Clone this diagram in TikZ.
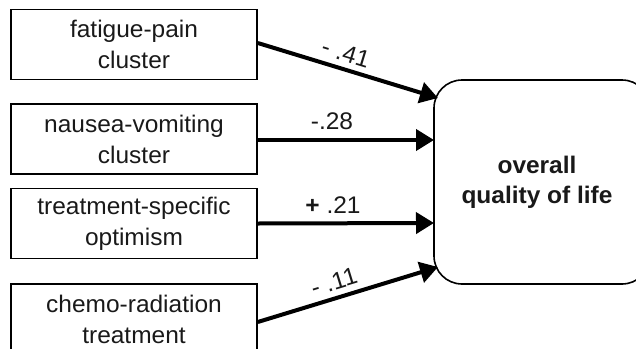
\documentclass[tikz,border=0pt]{standalone}
\usepackage{fontspec}
\setmainfont{Liberation Sans}[FakeStretch=1.02]
\usetikzlibrary{arrows.meta}
\begin{document}
\begin{tikzpicture}[x=0.5pt,y=-0.5pt,
  every node/.style={font=\fontsize{12}{15.5}\selectfont, text=black!90},
  srcbox/.style={draw, line width=0.8pt, minimum width=123pt, minimum height=35pt, align=center, inner sep=0pt},
  qolbox/.style={draw, line width=0.8pt, rounded corners=14pt, minimum width=108pt, minimum height=102pt, align=center, font=\fontsize{12}{15}\selectfont\bfseries},
  path/.style={line width=2pt, -{Triangle[length=9pt,width=10.5pt]}},
  coef/.style={inner sep=0pt}]
\useasboundingbox (0,0) rectangle (636,348);
\node[srcbox] (b1) at (134,44.5) {fatigue-pain\\cluster};
\node[srcbox] (b2) at (134,139) {nausea-vomiting\\cluster};
\node[srcbox] (b3) at (134,223.5) {treatment-specific\\optimism};
\node[srcbox] (b4) at (134,319) {chemo-radiation\\treatment};
\node[qolbox] (q) at (542,182) {};
\node[font=\fontsize{12}{15}\selectfont\bfseries, align=center] (qt) at (537,182) {overall\\quality of life};
\coordinate (t1) at (438,98);
\coordinate (t2) at (434,140);
\coordinate (t3) at (434,223);
\coordinate (t4) at (438,267);
\draw[path] (b1.east |- 0,43) -- (t1);
\draw[path] (b2.east |- 0,140) -- (t2);
\draw[path] (b3.east) -- (t3);
\draw[path] (b4.east |- 0,322) -- (t4);
\node[coef, rotate=-17] (c1) at (346,53) {- .41};
\node[coef] (c2) at (332,121) {-.28};
\node[coef] (c3) at (333,205) {\textbf{+} .21};
\node[coef, rotate=17] (c4) at (334,282) {- .11};
\end{tikzpicture}
\end{document}
